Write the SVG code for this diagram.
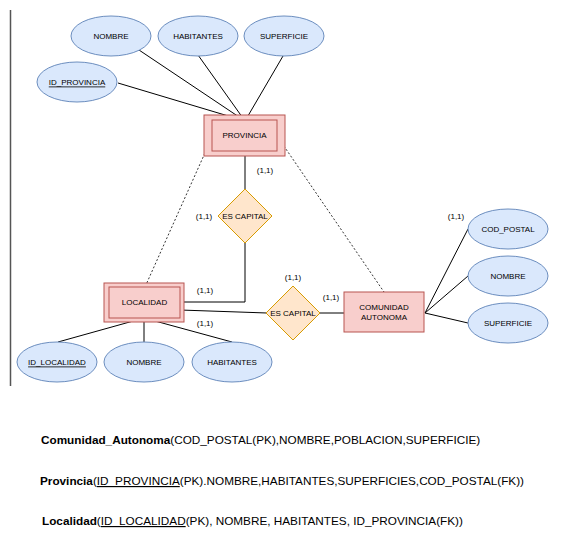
<svg xmlns="http://www.w3.org/2000/svg" width="565" height="552" viewBox="0 0 565 552">
<style>
.attr{fill:#dae8fc;stroke:#6c8ebf;stroke-width:1}
.ent{fill:#f8cecc;stroke:#b85450;stroke-width:1}
.rel{fill:#ffe6cc;stroke:#d79b00;stroke-width:1}
.lbl{font-family:"Liberation Sans",Arial,sans-serif;font-size:8px;fill:#000;text-anchor:middle;dominant-baseline:central}
.card{font-family:"Liberation Sans",Arial,sans-serif;font-size:8px;fill:#000;text-anchor:middle;dominant-baseline:central}
.ln{stroke:#000;stroke-width:1;fill:none}
.dot{stroke:#000;stroke-width:0.8;fill:none;stroke-dasharray:2 2}
.rt{font-family:"Liberation Sans",Arial,sans-serif;font-size:11.75px;fill:#000}
.u{text-decoration:underline}
</style>
<rect width="565" height="552" fill="#fff"/>
<line x1="10.5" y1="10" x2="10.5" y2="386" stroke="#555" stroke-width="1.5"/>

<g id="connectors">
  <line class="ln" x1="139" y1="50" x2="245" y2="121"/>
  <line class="ln" x1="198" y1="55" x2="245" y2="121"/>
  <line class="ln" x1="283" y1="56" x2="245" y2="121"/>
  <line class="ln" x1="118" y1="83" x2="245" y2="121"/>
  <line class="ln" x1="245" y1="151" x2="245" y2="189"/>
  <polyline class="ln" points="245,243 245,302 180,302"/>
  <line class="ln" x1="180" y1="310" x2="267" y2="313"/>
  <line class="ln" x1="320" y1="313" x2="344" y2="313"/>
  <line class="ln" x1="144" y1="318" x2="58" y2="342"/>
  <line class="ln" x1="144" y1="318" x2="144" y2="342"/>
  <line class="ln" x1="144" y1="318" x2="232" y2="342"/>
  <line class="ln" x1="425" y1="313" x2="468" y2="229"/>
  <line class="ln" x1="425" y1="313" x2="468" y2="276"/>
  <line class="ln" x1="425" y1="313" x2="468" y2="323"/>
  <line class="dot" x1="213" y1="135" x2="145" y2="287"/>
  <line class="dot" x1="277" y1="136" x2="384" y2="292"/>
  <text class="card" x="265" y="170">(1,1)</text>
  <text class="card" x="204" y="216">(1,1)</text>
  <text class="card" x="205" y="290">(1,1)</text>
  <text class="card" x="205" y="323">(1,1)</text>
  <text class="card" x="293" y="277">(1,1)</text>
  <text class="card" x="331" y="297">(1,1)</text>
  <text class="card" x="456" y="216">(1,1)</text>
</g>

<g id="attr-nombre-prov"><ellipse class="attr" cx="111" cy="36" rx="40" ry="20"/><text class="lbl" x="111" y="36">NOMBRE</text></g>
<g id="attr-habitantes-prov"><ellipse class="attr" cx="198" cy="36" rx="40" ry="20"/><text class="lbl" x="198" y="36">HABITANTES</text></g>
<g id="attr-superficie-prov"><ellipse class="attr" cx="284" cy="36" rx="40" ry="20"/><text class="lbl" x="284" y="36">SUPERFICIE</text></g>
<g id="attr-id-provincia"><ellipse class="attr" cx="77" cy="82" rx="40" ry="20"/><text class="lbl u" x="77" y="82">ID_PROVINCIA</text></g>

<g id="provincia"><rect class="ent" x="204" y="115" width="81" height="41"/><rect class="ent" x="212" y="120" width="65" height="31"/><text class="lbl" x="244.5" y="135.5">PROVINCIA</text></g>

<g id="es-capital-1"><polygon class="rel" points="245,189 272,216 245,243 218,216"/><text class="lbl" x="245" y="216">ES CAPITAL</text></g>

<g id="localidad"><rect class="ent" x="104" y="283" width="80" height="39"/><rect class="ent" x="109" y="287" width="71" height="31"/><text class="lbl" x="144.5" y="302.5">LOCALIDAD</text></g>

<g id="attr-id-localidad"><ellipse class="attr" cx="57" cy="362" rx="40" ry="20"/><text class="lbl u" x="57" y="362">ID_LOCALIDAD</text></g>
<g id="attr-nombre-loc"><ellipse class="attr" cx="144" cy="362" rx="40" ry="20"/><text class="lbl" x="144" y="362">NOMBRE</text></g>
<g id="attr-habitantes-loc"><ellipse class="attr" cx="232" cy="362" rx="40" ry="20"/><text class="lbl" x="232" y="362">HABITANTES</text></g>

<g id="es-capital-2"><polygon class="rel" points="293,286 320,313 293,340 266,313"/><text class="lbl" x="293" y="313">ES CAPITAL</text></g>

<g id="comunidad"><rect class="ent" x="344" y="292" width="80" height="40"/><text class="lbl" x="384" y="307.5">COMUNIDAD</text><text class="lbl" x="384" y="317">AUTONOMA</text></g>

<g id="attr-cod-postal"><ellipse class="attr" cx="508" cy="229" rx="40" ry="20"/><text class="lbl" x="508" y="229">COD_POSTAL</text></g>
<g id="attr-nombre-com"><ellipse class="attr" cx="508" cy="276" rx="40" ry="20"/><text class="lbl" x="508" y="276">NOMBRE</text></g>
<g id="attr-superficie-com"><ellipse class="attr" cx="508" cy="323" rx="40" ry="20"/><text class="lbl" x="508" y="323">SUPERFICIE</text></g>

<g id="relational">
<text class="rt" x="41" y="444"><tspan font-weight="bold">Comunidad_Autonoma</tspan>(COD_POSTAL(PK),NOMBRE,POBLACION,SUPERFICIE)</text>
<text class="rt" x="40" y="485"><tspan font-weight="bold">Provincia</tspan>(<tspan class="u">ID_PROVINCIA</tspan>(PK).NOMBRE,HABITANTES,SUPERFICIES,COD_POSTAL(FK))</text>
<text class="rt" x="42" y="525"><tspan font-weight="bold">Localidad</tspan>(<tspan class="u">ID_LOCALIDAD</tspan>(PK), NOMBRE, HABITANTES, ID_PROVINCIA(FK))</text>
</g>
</svg>
